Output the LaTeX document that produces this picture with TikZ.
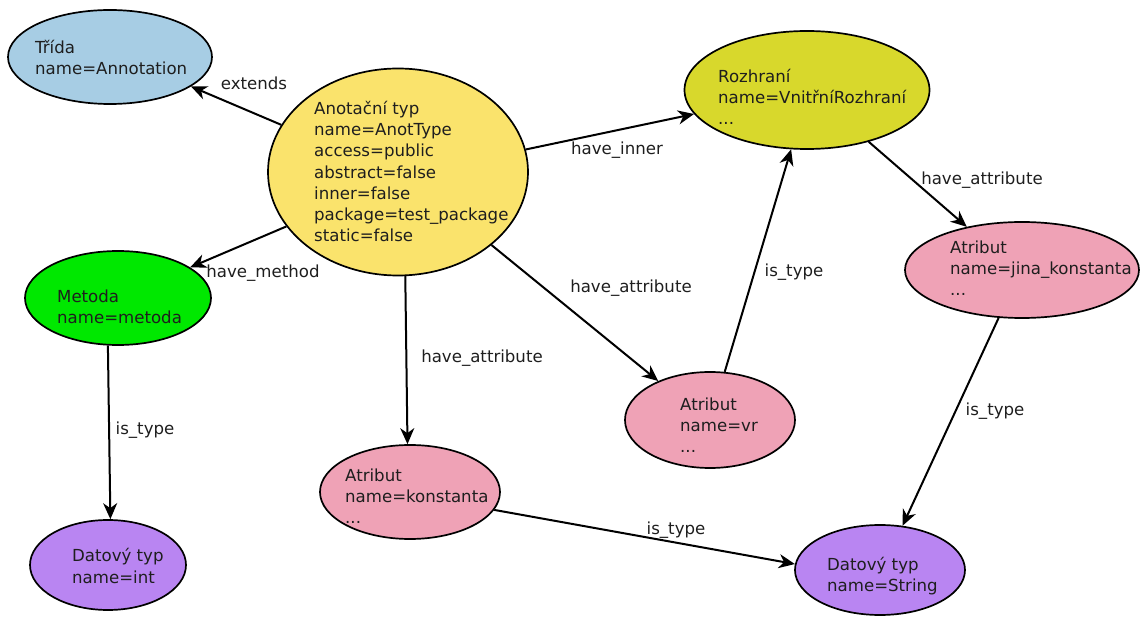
\documentclass[tikz,border=0pt]{standalone}
\usepackage{fontspec}
\setmainfont{DejaVu Sans}
\usetikzlibrary{arrows.meta,shapes.geometric}
\definecolor{cTrida}{HTML}{A7CDE4}
\definecolor{cAnot}{HTML}{FAE36C}
\definecolor{cRoz}{HTML}{D8D82C}
\definecolor{cMet}{HTML}{00E800}
\definecolor{cAtr}{HTML}{EFA2B6}
\definecolor{cDat}{HTML}{B985F2}
\definecolor{cTxt}{HTML}{1E1E1E}
\tikzset{
  ell/.style={ellipse, draw=black, line width=1.7pt, inner sep=0pt},
  txt/.style={anchor=west, align=left, inner sep=0pt, text=cTxt, font=\fontsize{16.6}{21.2}\selectfont},
  lbl/.style={inner sep=0pt, text=cTxt, font=\fontsize{16.6}{20}\selectfont},
  conn/.style={draw=black, line width=2pt, -{Stealth[length=16pt,width=14pt,inset=5pt]}}
}
\begin{document}
\begin{tikzpicture}[x=1pt,y=-1pt]
\useasboundingbox (0,0) rectangle (1144,617);
\fill[white] (0,0) rectangle (1144,617);
% ellipses
\node[ell, fill=cTrida, minimum width=204pt, minimum height=94pt] (trida) at (110,57) {};
\node[ell, fill=cAnot, minimum width=260pt, minimum height=207pt] (anot) at (398,172) {};
\node[ell, fill=cRoz, minimum width=245pt, minimum height=118pt] (roz) at (807,90) {};
\node[ell, fill=cAtr, minimum width=234pt, minimum height=96pt] (jina) at (1022,270) {};
\node[ell, fill=cMet, minimum width=186pt, minimum height=94pt] (met) at (118,298) {};
\node[ell, fill=cAtr, minimum width=170pt, minimum height=96pt] (vr) at (710,420) {};
\node[ell, fill=cAtr, minimum width=180pt, minimum height=94pt] (kon) at (410,492) {};
\node[ell, fill=cDat, minimum width=156pt, minimum height=90pt] (dint) at (108,565) {};
\node[ell, fill=cDat, minimum width=170pt, minimum height=90pt] (dstr) at (880,570) {};
% texts
\node[txt] (tridaT) at (35,57.5) {Třída\\name=Annotation};
\node[txt] (anotT) at (314,171.5) {Anotační typ\\name=AnotType\\access=public\\abstract=false\\inner=false\\package=test\_package\\static=false};
\node[txt] (rozT) at (718,97) {Rozhraní\\name=VnitřníRozhraní\\...};
\node[txt] (jinaT) at (950,268) {Atribut\\name=jina\_konstanta\\...};
\node[txt] (metT) at (57,306.5) {Metoda\\name=metoda};
\node[txt] (vrT) at (680,425) {Atribut\\name=vr\\...};
\node[txt] (konT) at (345,496) {Atribut\\name=konstanta\\...};
\node[txt] (dintT) at (72,566) {Datový typ\\name=int};
\node[txt] (dstrT) at (827,576) {Datový typ\\name=String};
% connectors
\draw[conn] (anot.158) -- (trida.-20.5);
\draw[conn] (anot.10.5) -- (roz.-168.6);
\draw[conn] (anot.206.8) -- (met.23.2);
\draw[conn] (anot.-38.7) -- (vr.143.1);
\draw[conn] (anot.-86.2) -- (kon.93.4);
\draw[conn] (vr.73.3) -- (roz.-105.3);
\draw[conn] (roz.-40.2) -- (jina.142.1);
\draw[conn] (jina.-116.6) -- (dstr.63.4);
\draw[conn] (met.-102) -- (dint.87.8);
\draw[conn] (kon.-12.8) -- (dstr.176.8);
% labels
\node[lbl] (l1) at (254,83) {extends};
\node[lbl] (l2) at (617,150) {have\_inner};
\node[lbl] (l3) at (263,273) {have\_method};
\node[lbl] (l4) at (631,288) {have\_attribute};
\node[lbl] (l5) at (482,358) {have\_attribute};
\node[lbl] (l6) at (794,272) {is\_type};
\node[lbl] (l7) at (982,180) {have\_attribute};
\node[lbl] (l8) at (995,411) {is\_type};
\node[lbl] (l9) at (145,430) {is\_type};
\node[lbl] (l10) at (676,530) {is\_type};
\end{tikzpicture}
\end{document}
